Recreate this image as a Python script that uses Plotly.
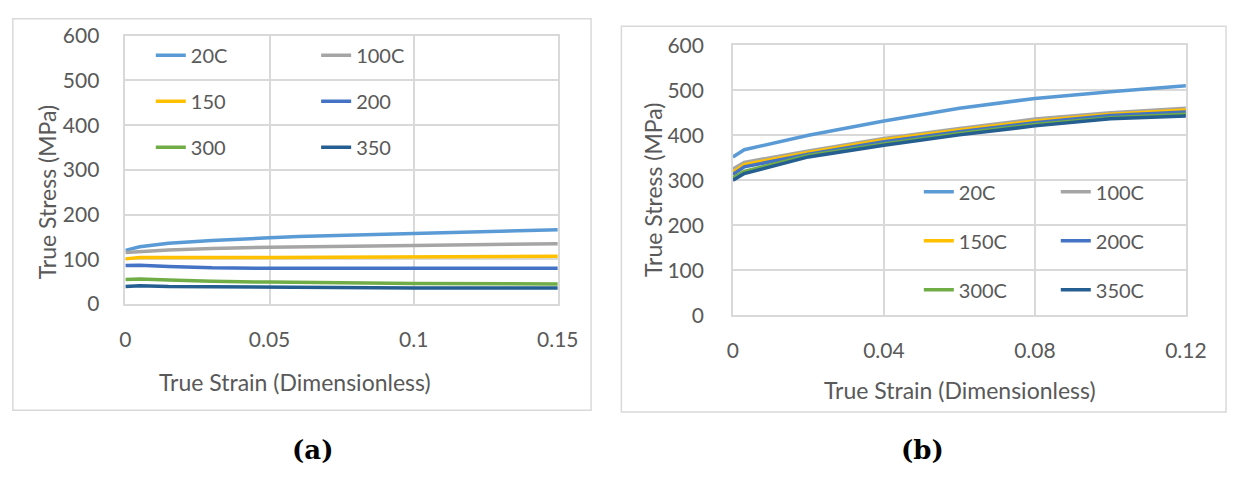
import plotly.graph_objects as go

W, H = 1248, 479

# ---- data panel (a)
a_names = ["20C", "100C", "150", "200", "300", "350"]
a_x = {
    "20C": [0, 0.005, 0.015, 0.03, 0.05, 0.06, 0.1, 0.15],
    "100C": [0, 0.015, 0.03, 0.05, 0.1, 0.15],
    "150": [0, 0.005, 0.05, 0.1, 0.15],
    "200": [0, 0.005, 0.015, 0.03, 0.05, 0.1, 0.15],
    "300": [0, 0.005, 0.015, 0.03, 0.05, 0.1, 0.15],
    "350": [0, 0.005, 0.015, 0.05, 0.1, 0.15],
}
a_y = {
    "20C": [120, 128, 136, 142, 148, 151, 158, 166],
    "100C": [115, 121, 124, 127, 131, 135],
    "150": [101, 104, 104, 105, 107],
    "200": [86, 87, 84, 81, 80, 80, 80],
    "300": [55, 56, 54, 51, 49, 46, 45],
    "350": [39, 41, 39, 37, 36, 36],
}

# ---- data panel (b)
b_names = ["20C", "100C", "150C", "200C", "300C", "350C"]
b_x = [0, 0.003, 0.02, 0.04, 0.06, 0.08, 0.1, 0.12]
b_y = {
    "20C": [352, 368, 400, 432, 460, 482, 497, 510],
    "100C": [325, 340, 365, 393, 415, 436, 450, 460],
    "150C": [318, 335, 362, 390, 412, 432, 447, 456],
    "200C": [313, 330, 358, 386, 408, 428, 444, 452],
    "300C": [305, 320, 355, 381, 404, 424, 439, 447],
    "350C": [300, 315, 352, 378, 401, 421, 437, 443],
}

colors = ["#5B9BD5", "#A5A5A5", "#FFC000", "#4472C4", "#70AD47", "#255E91"]

FONT = "Lato"
TICK = "#595959"
GRID = "#D9D9D9"

fig = go.Figure()

for i, n in enumerate(a_names):
    fig.add_trace(go.Scatter(
        x=a_x[n], y=a_y[n], mode="lines", name=n,
        line=dict(color=colors[i], width=3.5),
        xaxis="x", yaxis="y",
        legend="legend" if i % 2 == 0 else "legend2",
        legendgroup="a" + n,
    ))
for i, n in enumerate(b_names):
    fig.add_trace(go.Scatter(
        x=b_x, y=b_y[n], mode="lines", name=n,
        line=dict(color=colors[i], width=3.5),
        xaxis="x2", yaxis="y2",
        legend="legend3" if i % 2 == 0 else "legend4",
        legendgroup="b" + n,
    ))

def px_x(p):
    return p / W

def px_y(p):
    return (H - p) / H

axis_common = dict(showgrid=True, gridcolor=GRID, gridwidth=1.5,
                   showline=True, linecolor=GRID, linewidth=1.5, mirror=True,
                   zeroline=False, ticks="",
                   tickfont=dict(family=FONT, size=21, color=TICK))

leg_common = dict(bgcolor="rgba(0,0,0,0)", font=dict(family=FONT, size=20, color=TICK),
                  orientation="v", xanchor="left", yanchor="top")

fig.update_layout(
    width=W, height=H,
    margin=dict(l=0, r=0, t=0, b=0),
    paper_bgcolor="white", plot_bgcolor="white",
    xaxis=dict(domain=[px_x(122), px_x(564)], range=[0, 0.15],
               tickvals=[0, 0.05, 0.1, 0.15], ticktext=["0", "0.05", "0.1", "0.15"],
               anchor="y", ticklabelstandoff=16, **axis_common),
    yaxis=dict(domain=[px_y(306), px_y(23)], range=[0, 600], dtick=100,
               anchor="x", ticklabelstandoff=20, **axis_common),
    xaxis2=dict(domain=[px_x(743), px_x(1206)], range=[0, 0.12],
                tickvals=[0, 0.04, 0.08, 0.12], ticktext=["0", "0.04", "0.08", "0.12"],
                anchor="y2", ticklabelstandoff=16, **axis_common),
    yaxis2=dict(domain=[px_y(318), px_y(33)], range=[0, 600], dtick=100,
                anchor="x2", ticklabelstandoff=23, **axis_common),
    legend=dict(x=px_x(148), y=px_y(23), tracegroupgap=17, **leg_common),
    legend2=dict(x=px_x(317), y=px_y(23), tracegroupgap=17, **leg_common),
    legend3=dict(x=px_x(933), y=px_y(167), tracegroupgap=20, **leg_common),
    legend4=dict(x=px_x(1073), y=px_y(167), tracegroupgap=20, **leg_common),
    shapes=[
        dict(type="rect", xref="paper", yref="paper",
             x0=px_x(7), x1=px_x(598), y0=px_y(418), y1=px_y(5),
             line=dict(color=GRID, width=1.5)),
        dict(type="rect", xref="paper", yref="paper",
             x0=px_x(629), x1=px_x(1247), y0=px_y(420), y1=px_y(13),
             line=dict(color=GRID, width=1.5)),
    ],
)

def ann(x, y, text, size=23, angle=0, color=TICK, family=FONT):
    fig.add_annotation(xref="paper", yref="paper", x=px_x(x), y=px_y(y),
                       text=text, showarrow=False, textangle=angle,
                       xanchor="center", yanchor="middle",
                       font=dict(family=family, size=size, color=color))

ann(42, 188, "True Stress (MPa)", angle=-90)
ann(295, 388, "True Strain (Dimensionless)")
ann(662, 186, "True Stress (MPa)", angle=-90)
ann(975, 397, "True Strain (Dimensionless)")
ann(313, 460, "<b>(a)</b>", size=26, color="black", family="DejaVu Serif")
ann(937, 460, "<b>(b)</b>", size=26, color="black", family="DejaVu Serif")

fig.write_html("out.html")
